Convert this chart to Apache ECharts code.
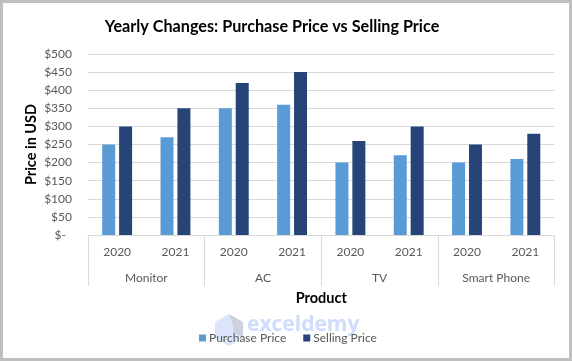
<!DOCTYPE html>
<html><head><meta charset="utf-8">
<style>html,body{margin:0;padding:0;background:#fff}#c{width:572px;height:361px}</style>
<script src="https://cdn.jsdelivr.net/npm/echarts@6/dist/echarts.min.js"></script>
</head><body><div id="c"></div>
<script>
const products = ['Monitor','AC','TV','Smart Phone'];
const years = ['2020','2021','2020','2021','2020','2021','2020','2021'];
const purchasePrice = [250,270,350,360,200,220,200,210];
const sellingPrice = [300,350,420,450,260,300,250,280];
const yTicks = {min:0,max:500,interval:50};
const font = 'Lato';
const grey = '#595959';
const chart = echarts.init(document.getElementById('c'),null,{renderer:'canvas'});
chart.setOption({
  animation:false,
  backgroundColor:'#fff',
  title:{text:'Yearly Changes: Purchase Price vs Selling Price',left:267,top:14,textAlign:'center',
    textStyle:{fontFamily:font,fontSize:16.2,fontWeight:'bold',color:'#000'}},
  grid:{left:88,right:17.5,top:54,bottom:126},
  legend:{data:['Purchase Price','Selling Price'],left:199,top:332,padding:0,itemWidth:7,itemHeight:7,itemGap:17,icon:'rect',
    textStyle:{fontFamily:font,fontSize:12,color:grey,padding:[0,0,0,-2]}},
  xAxis:[
    {type:'category',data:years,position:'bottom',
      axisLine:{show:true,lineStyle:{color:'#d9d9d9'}},axisTick:{show:false},
      axisLabel:{fontFamily:font,fontSize:12,color:grey,margin:11,interval:0},
      name:'Product',nameLocation:'middle',nameGap:56,nameMoveOverlap:false,
      nameTextStyle:{fontFamily:font,fontSize:14.5,fontWeight:'bold',color:'#000'}},
    {type:'category',data:products,position:'bottom',
      axisLine:{show:false},
      axisTick:{show:true,alignWithLabel:false,length:51,lineStyle:{color:'#d9d9d9'}},
      axisLabel:{fontFamily:font,fontSize:12,color:grey,margin:37,interval:0}}
  ],
  yAxis:{type:'value',min:yTicks.min,max:yTicks.max,interval:yTicks.interval,
    axisLine:{show:false},axisTick:{show:false},
    splitLine:{lineStyle:{color:'#d9d9d9'}},
    axisLabel:{fontFamily:font,fontSize:12,color:grey,margin:16,
      formatter:v=>v===0?'$-  ':'$'+v},
    name:'Price in USD',nameLocation:'middle',nameGap:49,nameRotate:90,nameMoveOverlap:false,
    nameTextStyle:{fontFamily:font,fontSize:14.5,fontWeight:'bold',color:'#000'}},
  series:[
    {name:'Purchase Price',type:'bar',data:purchasePrice,barWidth:13,barGap:'30%',itemStyle:{color:'#5b9bd5'}},
    {name:'Selling Price',type:'bar',data:sellingPrice,barWidth:13,itemStyle:{color:'#264478'}}
  ],
  graphic:[
    {type:'rect',silent:true,z:100,shape:{x:1.5,y:1.5,width:569,height:358},
      style:{fill:'none',stroke:'#bfbfbf',lineWidth:3}},
    {type:'polygon',silent:true,z:-1,shape:{points:[[229,314],[243,322],[243,338],[229,346],[215,338],[215,322]]},
      style:{fill:'#cfdcfb',opacity:0.75}},
    {type:'polygon',silent:true,z:-1,shape:{points:[[229,314],[243,322],[243,338],[233,332],[233,324]]},
      style:{fill:'#c9ced6',opacity:0.8}},
    {type:'text',silent:true,z:-1,style:{x:247,y:315,text:'exceldemy',fontFamily:'Open Sans',fontSize:21,fontWeight:'bold',fill:'#cfdcfb'}},
  ]
});
</script></body></html>
